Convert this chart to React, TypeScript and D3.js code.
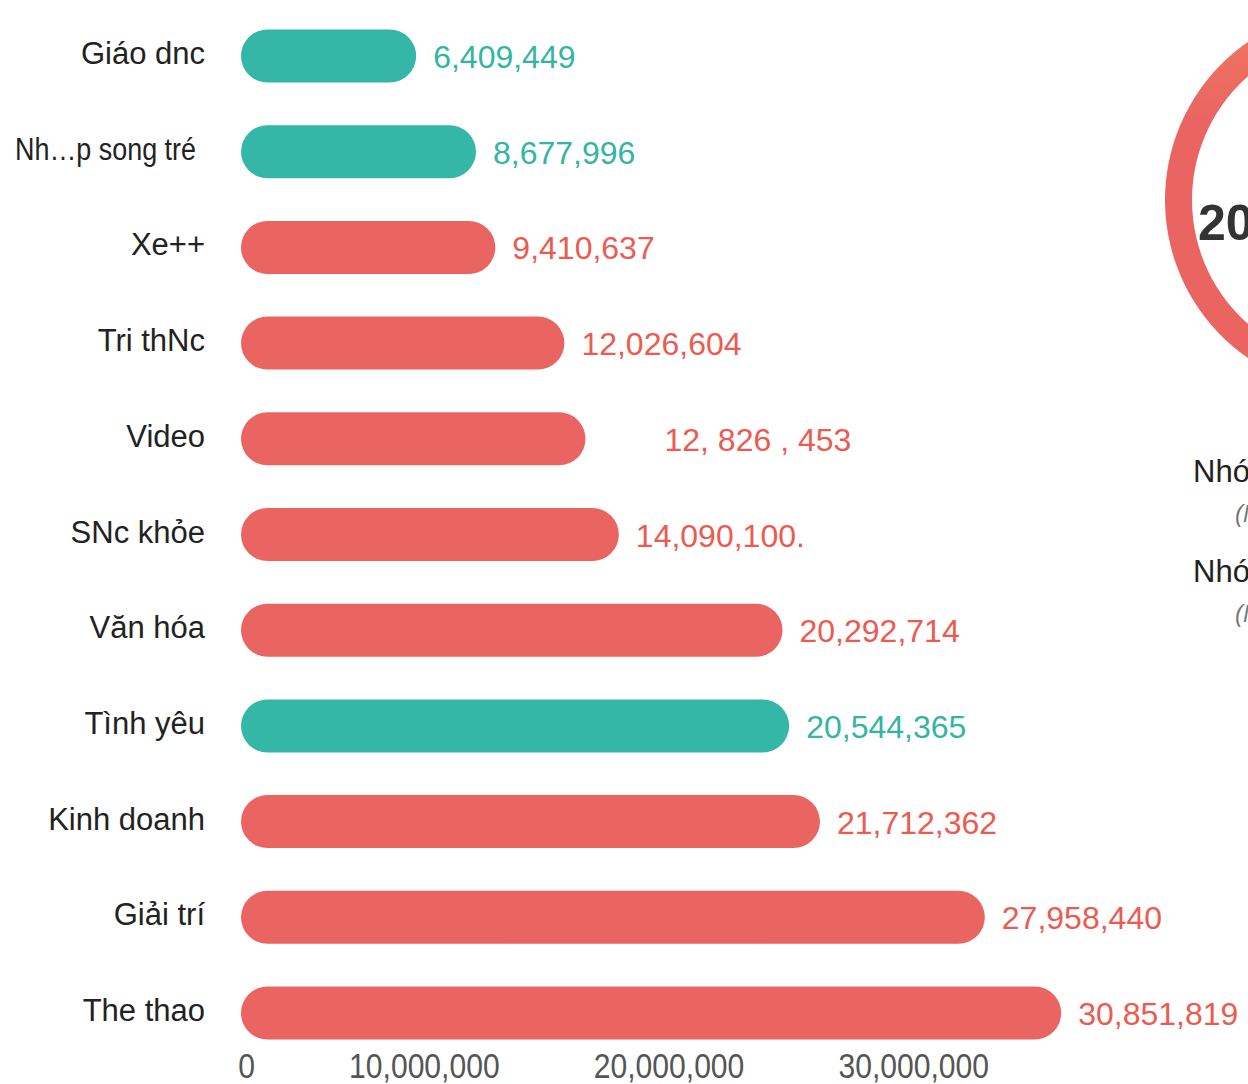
import React from "react";
import * as d3 from "d3";

const categories = [
  "Giáo dnc",
  "Nh…p song tré",
  "Xe++",
  "Tri thNc",
  "Video",
  "SNc khỏe",
  "Văn hóa",
  "Tình yêu",
  "Kinh doanh",
  "Giải trí",
  "The thao",
];
const values = [6409449, 8677996, 9410637, 12026604, 12826453, 14090100, 20292714, 20544365, 21712362, 27958440, 30851819];
const valueLabels = ["6,409,449", "8,677,996", "9,410,637", "12,026,604", "12, 826 , 453", "14,090,100.", "20,292,714", "20,544,365", "21,712,362", "27,958,440", "30,851,819"];
const groups = ["teal", "teal", "red", "red", "red", "red", "red", "teal", "red", "red", "red"];
const tickValues = [0, 10000000, 20000000, 30000000];
const donutValues = [19, 81];
const legendLabels = ["Nhóm tích cực", "Nhóm tiêu cực"];
const legendSubs = ["(Nhóm 1)", "(Nhóm 2)"];

const COLORS: Record<string, string> = { teal: "#34b7a7", red: "#ea6461" };
const TEXT_COLORS: Record<string, string> = { teal: "#32b5a5", red: "#ec5a50" };
const FONT = "'Liberation Sans', Arial, sans-serif";

export default function App() {
  const W = 1248;
  const H = 1084;
  const x = d3.scaleLinear().domain([0, 30000000]).range([247, 1038.7]);
  const barLeft = 241;
  const y = d3.scalePoint<string>().domain(categories).range([56, 1013]);
  const barH = 53;
  const axisX = d3.scaleLinear().domain([0, 30000000]).range([255, 989]);

  const cx = 1357, cy = 200;
  const pie = d3.pie<number>().sort(null).startAngle(0).endAngle(2 * Math.PI);
  const arcs = pie(donutValues);
  const arc = d3.arc<d3.PieArcDatum<number>>().innerRadius(165).outerRadius(192);
  const donutColors = ["#34b7a7", "url(#ringGrad)"];

  return (
    <svg width={W} height={H} style={{ display: "block", position: "absolute", left: 0, top: 0 }}>
      <defs>
        <linearGradient id="ringGrad" x1="0" y1="0" x2="0" y2="1" gradientUnits="objectBoundingBox">
          <stop offset="0" stopColor="#ef7a5f" />
          <stop offset="0.3" stopColor="#ea6461" />
          <stop offset="1" stopColor="#ea6461" />
        </linearGradient>
      </defs>
      <rect width={W} height={H} fill="#fff" />
      {categories.map((c, i) => {
        const cyb = y(c)!;
        const end = x(values[i]);
        const gap = c === "Video" ? 79 : 17;
        const long = c.length > 10;
        return (
          <g key={c}>
            <rect x={barLeft} y={cyb - barH / 2} width={end - barLeft} height={barH} rx={barH / 2} fill={COLORS[groups[i]]} />
            <text
              x={long ? 196 : 205}
              y={cyb + 8}
              textAnchor="end"
              fontFamily={FONT}
              fontSize={31}
              fill="#222"
              {...(long ? { textLength: 181, lengthAdjust: "spacingAndGlyphs" } : {})}
            >
              {c}
            </text>
            <text x={end + gap} y={cyb + 12} fontFamily={FONT} fontSize={32} fill={TEXT_COLORS[groups[i]]}>{valueLabels[i]}</text>
          </g>
        );
      })}
      {tickValues.map((t) => (
        <text
          key={t}
          transform={`translate(${axisX(t)},1078) scale(0.86,1)`}
          textAnchor="end"
          fontFamily={FONT}
          fontSize={35}
          fill="#555"
        >
          {d3.format(",")(t)}
        </text>
      ))}
      <g transform={`translate(${cx},${cy})`}>
        {arcs.map((a, i) => (
          <path key={i} d={arc(a)!} fill={donutColors[i]} />
        ))}
      </g>
      <text x={1198} y={240} fontFamily={FONT} fontWeight="bold" fontSize={50} fill="#333">20%</text>
      {legendLabels.map((l, i) => (
        <g key={l}>
          <text x={1193} y={482 + i * 100} fontFamily={FONT} fontSize={31} fill="#222">{l}</text>
          <text x={1235} y={522 + i * 100} fontFamily={FONT} fontStyle="italic" fontSize={24} fill="#777">{legendSubs[i]}</text>
        </g>
      ))}
    </svg>
  );
}
